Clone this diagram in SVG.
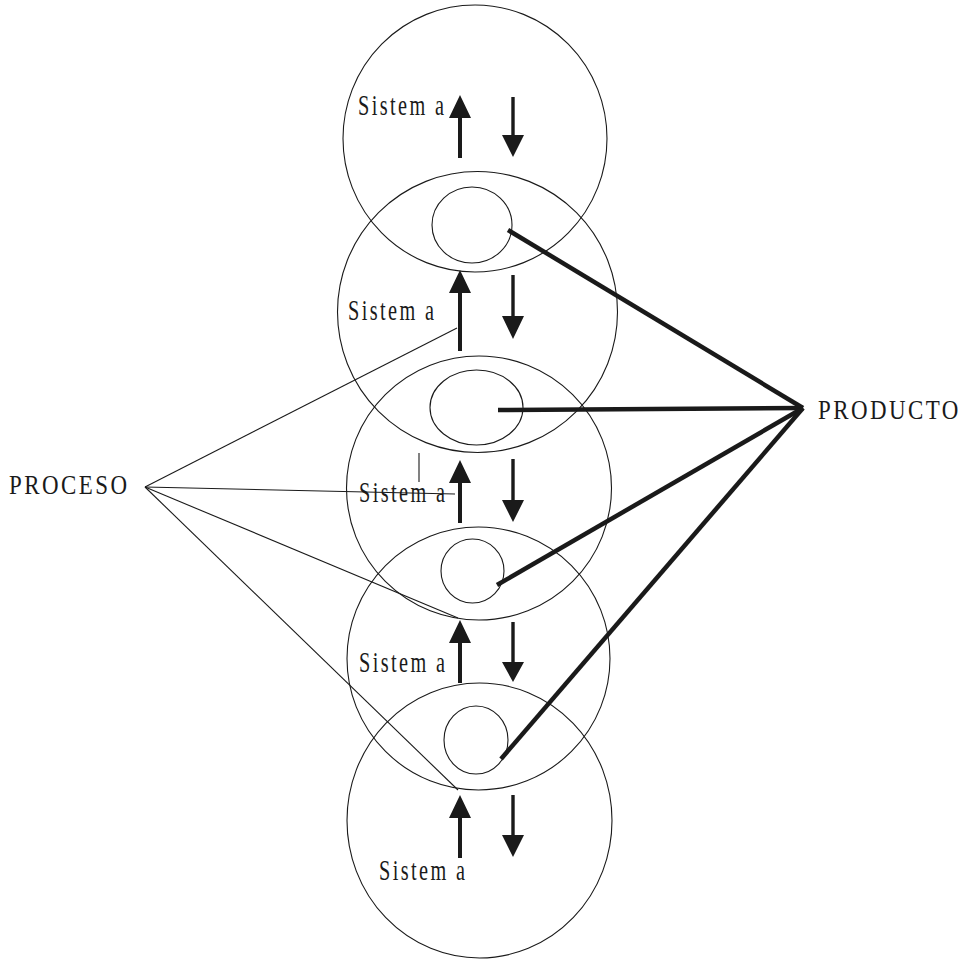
<svg xmlns="http://www.w3.org/2000/svg" width="968" height="963" viewBox="0 0 968 963">
  <style>
    .ring { fill: none; stroke: #1a1a1a; stroke-width: 1.1; }
    .core { fill: none; stroke: #1a1a1a; stroke-width: 1.1; }
    .arrow { fill: #1a1a1a; stroke: none; }
    .thin { stroke: #1a1a1a; stroke-width: 1.1; fill: none; }
    .thick { stroke: #1a1a1a; stroke-width: 4.5; fill: none; }
    .lbl { font-family: "Liberation Serif", "Times New Roman", serif; font-size: 29px; fill: #1a1a1a; }
    .big { font-family: "Liberation Serif", "Times New Roman", serif; font-size: 27px; fill: #1a1a1a; }
  </style>
  <rect width="968" height="963" fill="#ffffff"/>

  <!-- system levels: outer ring, flow arrows, label -->
  <g id="sistema-1">
    <ellipse class="ring" cx="475" cy="138.5" rx="132" ry="133.5"/>
    <path class="arrow" d="M460,95 L471,118 L462,118 L462,158 L458,158 L458,118 L449,118 Z"/>
    <path class="arrow" d="M511.3,97 L514.7,97 L514.7,135 L524,135 L513,157 L502,135 L511.3,135 Z"/>
    <text class="lbl" transform="translate(358,115) scale(0.7,1)" textLength="123" lengthAdjust="spacing">Sistem a</text>
  </g>
  <g id="sistema-2">
    <ellipse class="ring" cx="477.5" cy="312" rx="140" ry="140.5"/>
    <path class="arrow" d="M460,270 L471,293 L462,293 L462,351 L458,351 L458,293 L449,293 Z"/>
    <path class="arrow" d="M511.3,275 L514.7,275 L514.7,316 L524,316 L513,339 L502,316 L511.3,316 Z"/>
    <text class="lbl" transform="translate(348,320) scale(0.7,1)" textLength="123" lengthAdjust="spacing">Sistem a</text>
  </g>
  <g id="sistema-3">
    <ellipse class="ring" cx="479" cy="488" rx="132.5" ry="132"/>
    <path class="arrow" d="M460,460 L471,483 L462,483 L462,523 L458,523 L458,483 L449,483 Z"/>
    <path class="arrow" d="M511.3,459 L514.7,459 L514.7,500 L524,500 L513,522 L502,500 L511.3,500 Z"/>
    <text class="lbl" transform="translate(359,502) scale(0.7,1)" textLength="123" lengthAdjust="spacing">Sistem a</text>
    <line class="thin" x1="419" y1="453" x2="419" y2="482"/>
  </g>
  <g id="sistema-4">
    <ellipse class="ring" cx="478.5" cy="658.5" rx="131.5" ry="131.5"/>
    <path class="arrow" d="M460,620 L471,643 L462,643 L462,683 L458,683 L458,643 L449,643 Z"/>
    <path class="arrow" d="M511.3,622 L514.7,622 L514.7,662 L524,662 L513,682 L502,662 L511.3,662 Z"/>
    <text class="lbl" transform="translate(359,672) scale(0.7,1)" textLength="123" lengthAdjust="spacing">Sistem a</text>
  </g>
  <g id="sistema-5">
    <ellipse class="ring" cx="479.5" cy="820.5" rx="132.5" ry="137.5"/>
    <path class="arrow" d="M460,795 L471,818 L462,818 L462,858 L458,858 L458,818 L449,818 Z"/>
    <path class="arrow" d="M511.3,795 L514.7,795 L514.7,835 L524,835 L513,857 L502,835 L511.3,835 Z"/>
    <text class="lbl" transform="translate(379,880) scale(0.7,1)" textLength="123" lengthAdjust="spacing">Sistem a</text>
  </g>

  <!-- products: small cores inside each overlap -->
  <g id="producto-1"><ellipse class="core" cx="472" cy="225" rx="40" ry="38"/></g>
  <g id="producto-2"><ellipse class="core" cx="476.5" cy="407.5" rx="46.5" ry="37.5"/></g>
  <g id="producto-3"><ellipse class="core" cx="472.5" cy="571" rx="31.5" ry="32"/></g>
  <g id="producto-4"><ellipse class="core" cx="476" cy="740" rx="32" ry="34"/></g>

  <!-- side labels -->
  <g id="proceso">
    <text class="big" transform="translate(9,494) scale(0.85,1)" textLength="139" lengthAdjust="spacing">PROCESO</text>
  </g>
  <g id="producto">
    <text class="big" transform="translate(818,419) scale(0.85,1)" textLength="165" lengthAdjust="spacing">PRODUCTO</text>
  </g>

  <!-- leader lines -->
  <g id="connectors">
    <line class="thin" x1="145" y1="487" x2="457" y2="328"/>
    <line class="thin" x1="145" y1="487" x2="455" y2="494"/>
    <line class="thin" x1="145" y1="487" x2="458" y2="618"/>
    <line class="thin" x1="145" y1="487" x2="458" y2="790"/>
    <line class="thick" x1="803" y1="408" x2="508" y2="230"/>
    <line class="thick" x1="803" y1="408" x2="498" y2="410"/>
    <line class="thick" x1="803" y1="408" x2="497" y2="585"/>
    <line class="thick" x1="803" y1="408" x2="501" y2="759"/>
  </g>
</svg>
